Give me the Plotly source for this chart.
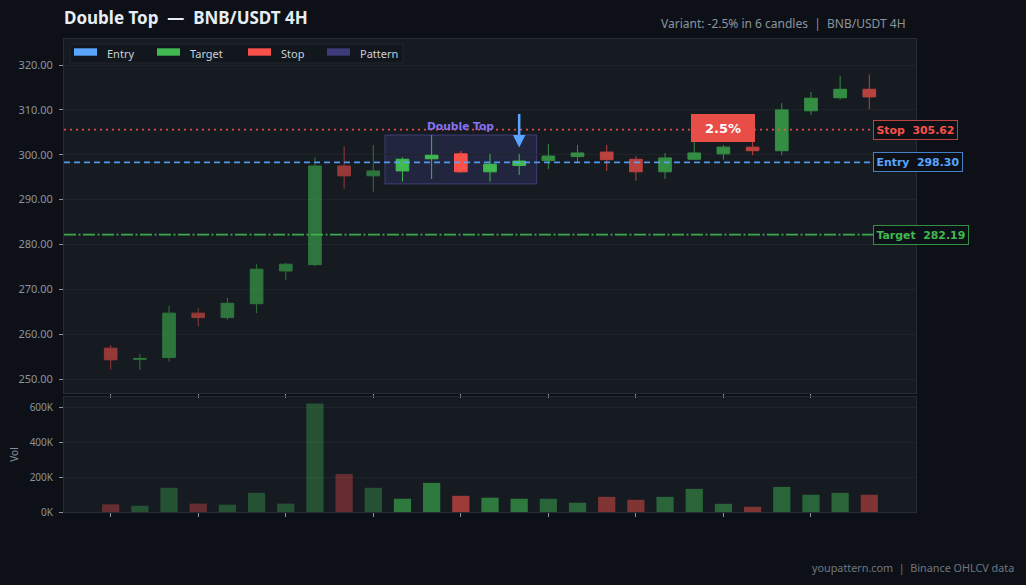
import plotly.graph_objects as go

# ---------------- data ----------------
title_text = "Double Top\u00a0 —\u00a0 BNB/USDT 4H"
subtitle_text = "Variant: -2.5% in 6 candles\u00a0 |\u00a0 BNB/USDT 4H"
footer_text = "youpattern.com\u00a0 |\u00a0 Binance OHLCV data"

candle_idx = list(range(27))
opens = [256.9, 254.4, 254.8, 264.7, 263.7, 266.8, 274.1, 275.5, 297.5, 295.3,
         296.4, 299.1, 300.2, 296.2, 297.6, 298.7, 299.6, 300.6, 299.0, 296.2,
         299.0, 300.2, 301.7, 300.9, 309.8, 312.7, 314.6]
highs = [257.6, 255.6, 266.3, 265.8, 268.1, 275.6, 275.9, 299.5, 301.9, 302.2,
         299.4, 304.4, 300.8, 300.2, 300.2, 302.4, 302.2, 302.2, 299.7, 300.4,
         303.1, 302.2, 303.1, 311.5, 314.0, 317.6, 317.9]
lows = [252.2, 252.0, 253.9, 261.8, 263.2, 264.7, 272.1, 275.2, 292.4, 291.8,
        294.0, 294.6, 296.0, 294.0, 295.5, 296.8, 298.2, 296.4, 294.2, 294.6,
        298.9, 298.9, 299.9, 299.9, 308.9, 312.3, 310.2]
closes = [254.3, 254.6, 264.7, 263.7, 266.9, 274.5, 275.6, 297.5, 295.3, 296.4,
          299.0, 299.9, 296.2, 297.9, 298.6, 299.7, 300.4, 298.9, 296.2, 299.3,
          300.4, 301.7, 300.9, 310.0, 312.6, 314.6, 312.9]
volumes = [44000, 36000, 139000, 48000, 42000, 110000, 48000, 623000, 218000, 139000,
           76000, 167000, 93000, 82000, 76000, 76000, 53000, 87000, 70000, 87000,
           133000, 47000, 30000, 144000, 99000, 110000, 99000]

pattern_start = 10
pattern_end = 14
entry_price = 298.30
stop_price = 305.62
target_price = 282.19
arrow_candle = 14
badge_candle = 21

legend_names = ["Entry", "Target", "Stop", "Pattern"]

price_ticks = [250, 260, 270, 280, 290, 300, 310, 320]
vol_ticks = [0, 200000, 400000, 600000]
vol_tick_text = ["0K", "200K", "400K", "600K"]
x_ticks = [0, 3, 6, 9, 12, 15, 18, 21, 24]

# ---------------- style ----------------
PAPER = "#0d1117"
PLOT = "#161b22"
GRID = "#1f242c"
AXIS = "#8b949e"
GREEN = "#3fb950"
RED = "#f85149"
BLUE = "#58a6ff"
PURPLE = "#3d3b7a"
FONT = "Noto Sans"
LABEL_FONT = "DejaVu Sans"
legend_colors = [BLUE, GREEN, RED, PURPLE]

W, H = 1026, 585
ML, MR, MT, MB = 64, 110, 39, 73
PW, PH = W - ML - MR, H - MT - MB


def px_x(px):
    return (px - ML) / PW


def px_y(py):
    return (H - MB - py) / PH


def rgba(hex_color, a):
    h = hex_color.lstrip("#")
    r, g, b = int(h[0:2], 16), int(h[2:4], 16), int(h[4:6], 16)
    return f"rgba({r},{g},{b},{a})"


fig = go.Figure()

phases = [
    (0, pattern_start, 0.57, 0.35),
    (pattern_start, pattern_end + 1, 1.0, 0.6),
    (pattern_end + 1, len(candle_idx), 0.72, 0.47),
]

for s, e, c_op, _ in phases:
    fig.add_trace(go.Candlestick(
        x=candle_idx[s:e], open=opens[s:e], high=highs[s:e], low=lows[s:e], close=closes[s:e],
        increasing=dict(line=dict(color=GREEN, width=1), fillcolor=GREEN),
        decreasing=dict(line=dict(color=RED, width=1), fillcolor=RED),
        opacity=c_op, showlegend=False, hoverinfo="skip",
        xaxis="x", yaxis="y",
    ))

vol_colors = []
for i in candle_idx:
    up = closes[i] >= opens[i]
    for s, e, _, v_op in phases:
        if s <= i < e:
            vol_colors.append(rgba(GREEN if up else RED, v_op))

fig.add_trace(go.Bar(
    x=candle_idx, y=volumes, marker=dict(color=vol_colors, line=dict(width=0)),
    showlegend=False, hoverinfo="skip", xaxis="x2", yaxis="y2",
))

# pattern rectangle
fig.add_shape(type="rect", xref="x", yref="y",
              x0=pattern_start - 0.6, x1=pattern_end + 0.6,
              y0=min(lows[pattern_start:pattern_end + 1]) - 0.5,
              y1=max(highs[pattern_start:pattern_end + 1]),
              fillcolor=rgba(PURPLE, 0.32), line=dict(color=rgba("#5a56b0", 0.55), width=1),
              layer="below")

# level lines + labels
levels = [
    ("Stop", stop_price, RED, "2px,4px"),
    ("Entry", entry_price, BLUE, "6px,4px"),
    ("Target", target_price, GREEN, "12px,2.5px,2px,2.5px"),
]
for name, val, col, dash in levels:
    fig.add_shape(type="line", xref="paper", yref="y", x0=0, x1=1, y0=val, y1=val,
                  line=dict(color=rgba(col, 0.9), width=1.8, dash=dash))
    fig.add_annotation(
        xref="paper", yref="y", x=px_x(873), y=val, xanchor="left", yanchor="middle",
        text=f"<b>{name}\u00a0 {val:.2f}</b>", showarrow=False,
        font=dict(family=LABEL_FONT, size=10.9, color=col),
        bgcolor=PAPER, bordercolor=rgba(col, 0.75), borderwidth=1, borderpad=2.5,
    )

# pattern label
fig.add_annotation(
    xref="x", yref="y", x=(pattern_start + pattern_end) / 2,
    y=max(highs[pattern_start:pattern_end + 1]), yanchor="bottom",
    text="<b>Double Top</b>", showarrow=False,
    font=dict(family=LABEL_FONT, size=10.7, color="#8572f2"),
)

# arrow
fig.add_annotation(
    xref="x", yref="y", x=arrow_candle, y=highs[arrow_candle] + 1.4,
    axref="x", ayref="y", ax=arrow_candle, ay=highs[arrow_candle] + 9.2,
    text="", showarrow=True, arrowhead=2, arrowsize=1, arrowwidth=2.5, arrowcolor=BLUE,
)

# percent badge
pct = (stop_price - entry_price) / entry_price * 100
fig.add_annotation(
    xref="x", yref="y", x=badge_candle, y=stop_price, yshift=2,
    text=f"<b>{pct:.1f}%</b>", showarrow=False,
    font=dict(family=LABEL_FONT, size=13, color="#ffffff"),
    bgcolor="#e84d48", bordercolor="#e84d48", borderwidth=1,
    width=58, height=22, borderpad=2,
)

# custom compact legend
fig.add_shape(type="rect", xref="paper", yref="paper",
              x0=px_x(70), x1=px_x(403), y0=px_y(63), y1=px_y(44),
              fillcolor="rgba(13,17,23,0.5)", line=dict(color="#21262d", width=1))
legend_sym_px = [74, 157, 248, 327]
for name, col, sx in zip(legend_names, legend_colors, legend_sym_px):
    fig.add_shape(type="rect", xref="paper", yref="paper",
                  x0=px_x(sx), x1=px_x(sx + 23), y0=px_y(55.7), y1=px_y(48.3),
                  fillcolor=col, line=dict(width=0))
    fig.add_annotation(xref="paper", yref="paper", x=px_x(sx + 31), y=px_y(53.5),
                       xanchor="left", yanchor="middle", text=name, showarrow=False,
                       font=dict(family=FONT, size=11, color="#c9d1d9"))

# title / subtitle / footer
fig.add_annotation(xref="paper", yref="paper", x=px_x(62), y=px_y(18), xanchor="left", yanchor="middle",
                   text=f"<b>{title_text}</b>", showarrow=False,
                   font=dict(family=FONT, size=17, color="#e6edf3"))
fig.add_annotation(xref="paper", yref="paper", x=px_x(908), y=px_y(23), xanchor="right", yanchor="middle",
                   text=subtitle_text, showarrow=False,
                   font=dict(family=FONT, size=12, color=AXIS))
fig.add_annotation(xref="paper", yref="paper", x=px_x(1016), y=px_y(567), xanchor="right", yanchor="middle",
                   text=footer_text, showarrow=False,
                   font=dict(family=FONT, size=10.8, color="#6e7681"))

xcommon = dict(range=[-1.6, 27.6], tickvals=x_ticks, ticktext=[""] * len(x_ticks),
               ticks="outside", ticklen=4, tickcolor=AXIS, tickwidth=1,
               showgrid=False, zeroline=False, showline=True, linecolor="#262c35",
               mirror=True)

fig.update_layout(
    width=W, height=H,
    paper_bgcolor=PAPER, plot_bgcolor=PLOT,
    margin=dict(l=ML, r=MR, t=MT, b=MB),
    font=dict(family=FONT, size=11, color=AXIS),
    boxgap=0.38, bargap=0.41,
    showlegend=False,
    xaxis=dict(domain=[0, 1], anchor="y", rangeslider=dict(visible=False), **xcommon),
    xaxis2=dict(domain=[0, 1], anchor="y2", matches="x", **xcommon),
    yaxis=dict(domain=[px_y(393), 1], range=[246.9, 325.8], tickvals=price_ticks,
               tickformat=".2f", ticks="outside", ticklen=4, tickcolor=AXIS,
               ticklabelstandoff=4,
               gridcolor=GRID, zeroline=False, showline=True, linecolor="#262c35",
               mirror=True, tickfont=dict(size=11, color=AXIS)),
    yaxis2=dict(domain=[0, px_y(397)], range=[0, 660000], tickvals=vol_ticks,
                ticktext=vol_tick_text, ticks="outside", ticklen=4, tickcolor=AXIS,
                ticklabelstandoff=4,
                gridcolor=GRID, zeroline=False, showline=True, linecolor="#262c35",
                mirror=True, tickfont=dict(size=10, color=AXIS),
                title=dict(text="Vol", font=dict(size=10, color=AXIS), standoff=9)),
)

fig.write_html("out.html")
